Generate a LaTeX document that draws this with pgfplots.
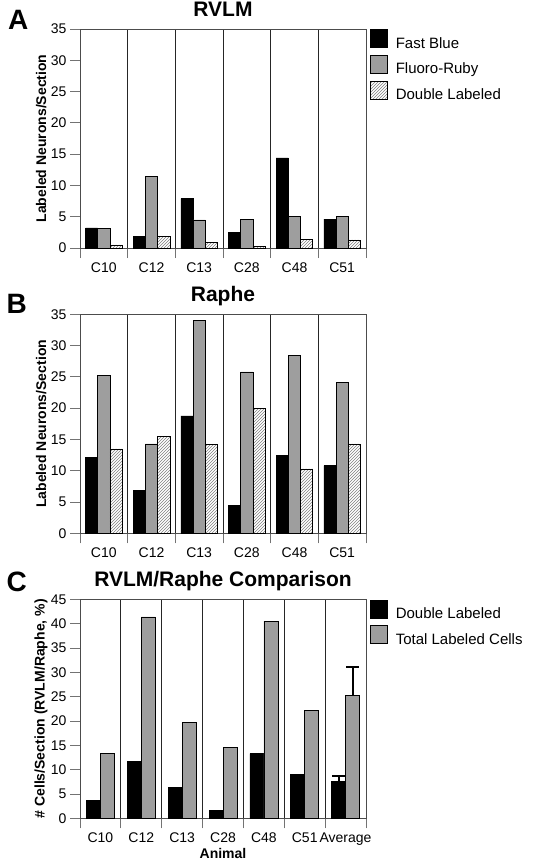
\documentclass[border=0pt]{standalone}
\usepackage{fontspec}
\setmainfont{Liberation Sans}
\usepackage{pgfplots}
\pgfplotsset{compat=1.18}
\usetikzlibrary{patterns}

\definecolor{frgray}{gray}{0.62}

\pgfplotsset{
  panel/.style={
    scale only axis, width=286pt, height=219pt,
    ybar=0pt, ymin=0,
    axis line style={black!70, line width=0.9pt},
    tick style={black!55, line width=0.9pt},
    major tick length=10pt, tick align=outside,
    ytick pos=left, xtick pos=bottom,
    xticklabels={}, xmajorgrids,
    grid style={black!85, line width=0.8pt},
    extra x tick style={major tick length=0pt, grid=none,
      xticklabel style={anchor=base, yshift=-24pt}},
    /pgf/number format/assume math mode=true,
    yticklabel style={font=\fontsize{14}{14}\selectfont},
    xticklabel style={font=\fontsize{14}{14}\selectfont},
    title style={font=\bfseries\fontsize{21}{22}\selectfont, at={(0.5,1)}, anchor=base, yshift=7pt},
    ylabel style={font=\bfseries\fontsize{14}{15}\selectfont, at={(axis description cs:-0.136,0.5)}, anchor=center},
    legend style={at={(1,1)}, anchor=north west, xshift=4pt, draw=none, fill=none,
      inner sep=0pt, row sep=5.3pt, font=\fontsize{15}{16}\selectfont,
      nodes={inner sep=0pt},
      /tikz/every odd column/.style={column sep=8pt}},
    legend cell align=left,
    every axis plot post/.append style={
      legend image code/.code={\draw[##1] (0pt,-4pt) rectangle (17pt,14pt);}},
  },
  fb/.style={fill=black, draw=black, line width=0.6pt},
  fr/.style={fill=frgray, draw=black, line width=0.6pt},
  dl/.style={pattern=north east lines, pattern color=black!50, draw=black, line width=0.6pt},
  % upward error bar with a cap, drawn thick; x is the bar centre
  errup/.style={sharp plot, draw=none, fill=none, mark=none, forget plot,
    error bars/y dir=plus, error bars/y explicit,
    error bars/draw error bar/.code 2 args={
      \draw[black, line width=2pt] ##1 -- ##2 ++(-6.3pt,0pt) -- ++(12.6pt,0pt);}},
}

\begin{document}
\begin{tikzpicture}
\useasboundingbox (0,0) rectangle (534pt,-862pt);

% A: RVLM
\begin{axis}[panel, at={(80pt,-248pt)}, anchor=south west,
  bar width=12.2pt, ymax=35, ytick={0,5,...,35},
  xmin=-0.5, xmax=5.5, xtick={-0.5,0.5,...,5.5},
  extra x ticks={0,1,2,3,4,5}, extra x tick labels={C10,C12,C13,C28,C48,C51},
  title={RVLM}, ylabel={Labeled Neurons/Section}]
\addplot[fb] coordinates {(0,3.2) (1,1.9) (2,7.9) (3,2.45) (4,14.4) (5,4.6)};
\addplot[fr] coordinates {(0,3.1) (1,11.5) (2,4.5) (3,4.55) (4,5.0) (5,5.0)};
\addplot[dl] coordinates {(0,0.5) (1,1.8) (2,0.9) (3,0.3) (4,1.4) (5,1.3)};
\legend{Fast Blue, Fluoro-Ruby, Double Labeled}
\end{axis}

% B: Raphe
\begin{axis}[panel, at={(80pt,-533.3pt)}, anchor=south west,
  bar width=12.2pt, ymax=35, ytick={0,5,...,35},
  xmin=-0.5, xmax=5.5, xtick={-0.5,0.5,...,5.5},
  extra x ticks={0,1,2,3,4,5}, extra x tick labels={C10,C12,C13,C28,C48,C51},
  title={Raphe}, ylabel={Labeled Neurons/Section}]
\addplot[fb] coordinates {(0,12.1) (1,6.9) (2,18.75) (3,4.4) (4,12.4) (5,10.8)};
\addplot[fr] coordinates {(0,25.3) (1,14.3) (2,34.0) (3,25.8) (4,28.45) (5,24.1)};
\addplot[dl] coordinates {(0,13.5) (1,15.45) (2,14.2) (3,20.0) (4,10.3) (5,14.3)};
\end{axis}

% C: RVLM/Raphe comparison
\begin{axis}[panel, at={(80pt,-818.3pt)}, anchor=south west,
  bar width=14pt, ymax=45, ytick={0,5,...,45},
  xmin=-0.5, xmax=6.5, xtick={-0.5,0.5,...,6.5},
  extra x ticks={0,1,2,3,4,5,6}, extra x tick labels={C10,C12,C13,C28,C48,C51,Average},
  title={RVLM/Raphe Comparison}, ylabel={\# Cells/Section (RVLM/Raphe, \%)},
  xlabel={Animal},
  xlabel style={font=\bfseries\fontsize{14}{15}\selectfont, at={(axis description cs:0.5,0)}, anchor=base, yshift=-40pt}]
\addplot[fb, bar shift=-7pt] coordinates {(0,3.7) (1,11.65) (2,6.3) (3,1.65) (4,13.3) (5,9.0) (6,7.6)};
\addplot[fr, bar shift=7pt] coordinates {(0,13.35) (1,41.4) (2,19.75) (3,14.5) (4,40.5) (5,22.1) (6,25.3)};
% error bars of the averages (bar centres at 6 -/+ 7pt)
\addplot[errup] coordinates {(5.829,7.6) +- (0,1.1)};
\addplot[errup] coordinates {(6.171,25.3) +- (0,5.7)};
\legend{Double Labeled, Total Labeled Cells}
\end{axis}

\node[anchor=base west, inner sep=0pt, font=\bfseries\fontsize{28}{28}\selectfont] at (8pt,-29.3pt) {A};
\node[anchor=base west, inner sep=0pt, font=\bfseries\fontsize{28}{28}\selectfont] at (6.5pt,-313.3pt) {B};
\node[anchor=base west, inner sep=0pt, font=\bfseries\fontsize{28}{28}\selectfont] at (6.5pt,-591.7pt) {C};
\end{tikzpicture}
\end{document}
